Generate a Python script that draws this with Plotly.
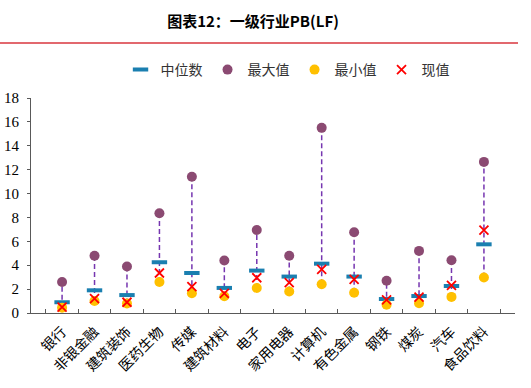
import plotly.graph_objects as go

categories = ["银行", "非银金融", "建筑装饰", "医药生物", "传媒", "建筑材料", "电子",
              "家用电器", "计算机", "有色金属", "钢铁", "煤炭", "汽车", "食品饮料"]
median_vals = [0.9, 1.9, 1.5, 4.25, 3.35, 2.1, 3.55, 3.05, 4.13, 3.05, 1.17, 1.42, 2.26, 5.75]
max_vals = [2.6, 4.8, 3.9, 8.35, 11.4, 4.4, 6.95, 4.8, 15.5, 6.76, 2.7, 5.2, 4.42, 12.65]
min_vals = [0.45, 1.0, 0.8, 2.6, 1.65, 1.4, 2.1, 1.8, 2.4, 1.7, 0.7, 0.82, 1.35, 2.97]
current_vals = [0.5, 1.2, 0.9, 3.35, 2.2, 1.65, 2.95, 2.55, 3.66, 2.82, 1.1, 1.32, 2.32, 6.93]

cjk = "Noto Sans CJK SC"
serif = "Liberation Serif"

# dashed connectors min->max
lx, ly = [], []
for c, lo, hi in zip(categories, min_vals, max_vals):
    lx += [c, c, None]
    ly += [lo, hi, None]

fig = go.Figure()
fig.add_trace(go.Scatter(x=lx, y=ly, mode="lines", showlegend=False, hoverinfo="skip",
                         line=dict(color="#7636b0", width=1.5, dash="5px,3px")))
fig.add_trace(go.Scatter(x=categories, y=median_vals, mode="markers", name="中位数",
                         marker=dict(symbol="line-ew", size=11,
                                     line=dict(color="#1a7fb0", width=4))))
fig.add_trace(go.Scatter(x=categories, y=max_vals, mode="markers", name="最大值",
                         marker=dict(symbol="circle", size=10, color="#8b4a72")))
fig.add_trace(go.Scatter(x=categories, y=min_vals, mode="markers", name="最小值",
                         marker=dict(symbol="circle", size=10, color="#ffc000")))
fig.add_trace(go.Scatter(x=categories, y=current_vals, mode="markers", name="现值",
                         marker=dict(symbol="x-thin", size=9,
                                     line=dict(color="#ff0000", width=1.8))))

fig.update_layout(
    width=531, height=388,
    margin=dict(l=31, r=16, t=98, b=75, autoexpand=False),
    paper_bgcolor="white", plot_bgcolor="white",
    title=dict(text="<b>图表12：一级行业PB(LF)</b>", x=253 / 531, xanchor="center",
               y=1 - 22 / 388, yanchor="middle",
               font=dict(family=cjk, size=15, color="black")),
    legend=dict(orientation="h", x=0.53, xanchor="center", y=1 - 70 / 388, yref="container",
                yanchor="middle", font=dict(family=cjk, size=14, color="#333333"),
                itemwidth=30, tracegroupgap=0),
    shapes=[dict(type="line", xref="paper", yref="paper",
                 x0=-31 / 484, x1=487 / 484, y0=(313 - 43) / 215, y1=(313 - 43) / 215,
                 line=dict(color="#d9363e", width=1.5))],
    xaxis=dict(type="category", showline=True, linecolor="#595959", linewidth=1,
               ticks="inside", tickson="boundaries", ticklen=4, tickcolor="#595959",
               tickangle=-45, showgrid=False, automargin=False, ticklabelstandoff=4,
               tickfont=dict(family=cjk, size=14, color="black")),
    yaxis=dict(range=[0, 18], dtick=2, showline=True, linecolor="#595959", linewidth=1,
               ticks="outside", ticklen=3, tickcolor="#595959", ticklabelstandoff=5,
               showgrid=False, zeroline=False, automargin=False,
               tickfont=dict(family=serif, size=15, color="black")),
)

fig.write_html("out.html", config={"displayModeBar": False},
               post_script="document.body.style.margin='0';document.body.style.overflow='hidden';")
